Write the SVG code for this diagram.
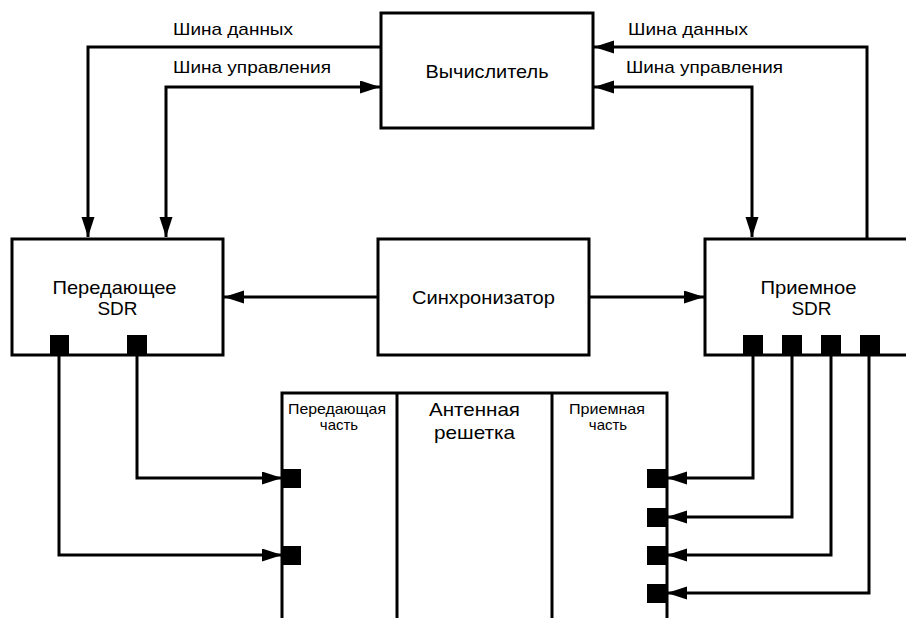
<svg xmlns="http://www.w3.org/2000/svg" width="906" height="618" viewBox="0 0 906 618">
<style>
.box{fill:#fff;stroke:#000;stroke-width:3}
.ln{fill:none;stroke:#000;stroke-width:3}
.port{fill:#000;stroke:none}
text{font-family:"Liberation Sans",Arial,sans-serif;fill:#000}
.big{font-size:19px;text-anchor:middle}
.bus{font-size:17px}
.small{font-size:15px;text-anchor:middle}
</style>
<defs>
<marker id="ah" markerUnits="userSpaceOnUse" markerWidth="21" markerHeight="14" refX="20" refY="6.5" orient="auto-start-reverse">
<path d="M0,0 L20,6.5 L0,13 Z" fill="#000"/>
</marker>
</defs>
<rect width="906" height="618" fill="#fff"/>
<g id="connectors">
<path class="ln" d="M381,47 H88 V237" marker-end="url(#ah)"/>
<path class="ln" d="M166,237 V87 H380" marker-start="url(#ah)" marker-end="url(#ah)"/>
<path class="ln" d="M867,239 V47 H594" marker-end="url(#ah)"/>
<path class="ln" d="M594,87 H752 V237" marker-start="url(#ah)" marker-end="url(#ah)"/>
<path class="ln" d="M378,297 H224" marker-end="url(#ah)"/>
<path class="ln" d="M589,297 H704" marker-end="url(#ah)"/>
<path class="ln" d="M137,355 V478 H282" marker-end="url(#ah)"/>
<path class="ln" d="M59,355 V555 H282" marker-end="url(#ah)"/>
<path class="ln" d="M753,355 V478 H667" marker-end="url(#ah)"/>
<path class="ln" d="M792,355 V517 H667" marker-end="url(#ah)"/>
<path class="ln" d="M831,355 V555 H667" marker-end="url(#ah)"/>
<path class="ln" d="M869,355 V593 H667" marker-end="url(#ah)"/>
<text class="bus" x="173" y="35" textLength="120" lengthAdjust="spacingAndGlyphs">Шина данных</text>
<text class="bus" x="173" y="73" textLength="158" lengthAdjust="spacingAndGlyphs">Шина управления</text>
<text class="bus" x="628" y="35" textLength="120" lengthAdjust="spacingAndGlyphs">Шина данных</text>
<text class="bus" x="626" y="73" textLength="157" lengthAdjust="spacingAndGlyphs">Шина управления</text>
</g>
<g id="computer">
<rect class="box" x="381" y="13" width="212" height="115"/>
<text class="big" x="487" y="78" textLength="123" lengthAdjust="spacingAndGlyphs">Вычислитель</text>
</g>
<g id="tx-sdr">
<rect class="box" x="12" y="239" width="211" height="116"/>
<text class="big" x="114.5" y="293.5" textLength="124" lengthAdjust="spacingAndGlyphs">Передающее</text>
<text class="big" x="117.5" y="315">SDR</text>
<rect class="port" x="50" y="335" width="19" height="20"/>
<rect class="port" x="127" y="335" width="20" height="20"/>
</g>
<g id="synchronizer">
<rect class="box" x="378" y="239" width="211" height="116"/>
<text class="big" x="483.5" y="304" textLength="143" lengthAdjust="spacingAndGlyphs">Синхронизатор</text>
</g>
<g id="rx-sdr">
<rect class="box" x="705" y="239" width="215" height="116"/>
<text class="big" x="808.5" y="293.5" textLength="96" lengthAdjust="spacingAndGlyphs">Приемное</text>
<text class="big" x="811.5" y="315">SDR</text>
<rect class="port" x="743" y="335" width="20" height="20"/>
<rect class="port" x="782" y="335" width="20" height="20"/>
<rect class="port" x="821" y="335" width="20" height="20"/>
<rect class="port" x="860" y="335" width="20" height="20"/>
</g>
<g id="antenna-array">
<path class="ln" d="M282,620 V393 H667 V620"/>
<path class="ln" d="M397,393 V620"/>
<path class="ln" d="M552,393 V620"/>
<text class="small" x="337" y="413.5" textLength="98" lengthAdjust="spacingAndGlyphs">Передающая</text>
<text class="small" x="339" y="430">часть</text>
<text class="big" x="474.5" y="416" textLength="91" lengthAdjust="spacingAndGlyphs">Антенная</text>
<text class="big" x="474.5" y="438.5" textLength="81" lengthAdjust="spacingAndGlyphs">решетка</text>
<text class="small" x="607" y="413.5" textLength="76" lengthAdjust="spacingAndGlyphs">Приемная</text>
<text class="small" x="608" y="430">часть</text>
<rect class="port" x="282" y="469" width="19" height="19"/>
<rect class="port" x="282" y="546" width="19" height="19"/>
<rect class="port" x="647" y="469" width="20" height="19"/>
<rect class="port" x="647" y="508" width="20" height="19"/>
<rect class="port" x="647" y="546" width="20" height="19"/>
<rect class="port" x="647" y="584" width="20" height="19"/>
</g>
</svg>
